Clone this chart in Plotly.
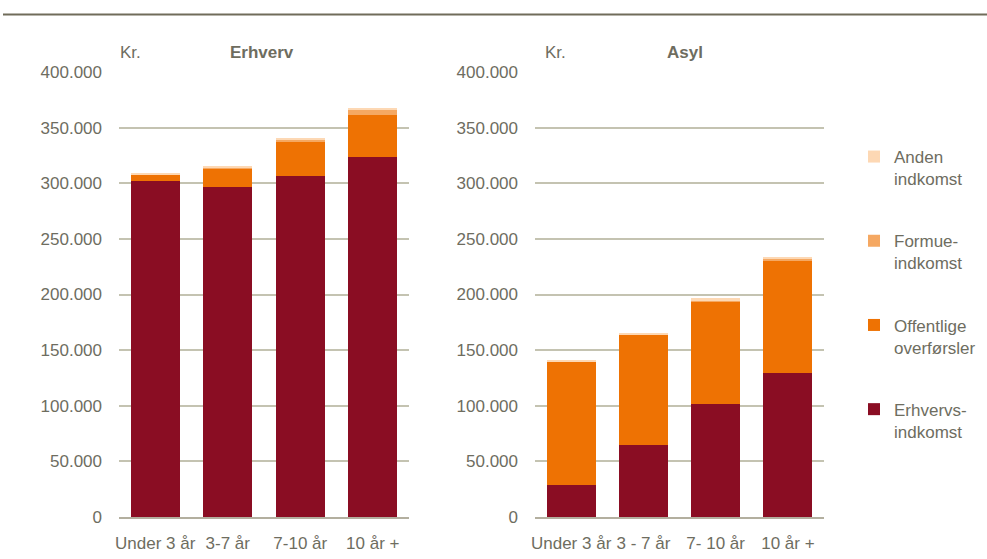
import plotly.graph_objects as go
from plotly.subplots import make_subplots

# categories per panel
cats_erhverv = ["Under 3 år", "3-7 år", "7-10 år", "10 år +"]
cats_asyl = ["Under 3 år", "3 - 7 år", "7- 10 år", "10 år +"]

# income components (kr.)
erhverv_erhvervsindk = [302000, 296500, 306500, 324000]
erhverv_offentlige = [5500, 16500, 31000, 37000]
erhverv_formue = [500, 1000, 1500, 4500]
erhverv_anden = [1000, 1000, 1500, 2000]

asyl_erhvervsindk = [28500, 64500, 101500, 129000]
asyl_offentlige = [111000, 99500, 92500, 101500]
asyl_formue = [300, 400, 1000, 1000]
asyl_anden = [700, 700, 1500, 2300]

series_names = ["Erhvervs-<br>indkomst", "Offentlige<br>overførsler", "Formue-<br>indkomst", "Anden<br>indkomst"]
colors = ["#8A0D23", "#EE7203", "#F5A862", "#FDD8B4"]

yticks = [0, 50000, 100000, 150000, 200000, 250000, 300000, 350000, 400000]

FONT = "Liberation Sans, Arial, sans-serif"
FS = 17
TXT = "#6E6D5F"
GRID = "#C4C3B1"

fig = make_subplots(rows=1, cols=2)

left = [erhverv_erhvervsindk, erhverv_offentlige, erhverv_formue, erhverv_anden]
right = [asyl_erhvervsindk, asyl_offentlige, asyl_formue, asyl_anden]

for i, name in enumerate(series_names):
    fig.add_trace(go.Bar(x=cats_erhverv, y=left[i], name=name, marker_color=colors[i],
                         marker_line_width=0, legendgroup=str(i), legendrank=10 - i),
                  row=1, col=1)
    fig.add_trace(go.Bar(x=cats_asyl, y=right[i], name=name, marker_color=colors[i],
                         marker_line_width=0, legendgroup=str(i), showlegend=False),
                  row=1, col=2)

W, H = 987, 559
ybot, ytop = (H - 517) / H, (H - 72) / H

fig.update_layout(
    width=W, height=H,
    barmode="stack", bargap=0.32,
    separators=",.",
    plot_bgcolor="white", paper_bgcolor="white",
    margin=dict(l=0, r=0, t=0, b=0),
    font=dict(family=FONT, size=FS, color=TXT),
    legend=dict(x=854 / W, y=(H - 139) / H, xanchor="left", yanchor="top",
                traceorder="grouped", tracegroupgap=37,
                valign="top", itemwidth=30,
                font=dict(family=FONT, size=FS, color=TXT)),
    xaxis=dict(domain=[119 / W, 409 / W]),
    xaxis2=dict(domain=[535 / W, 824 / W]),
    yaxis=dict(domain=[ybot, ytop]),
    yaxis2=dict(domain=[ybot, ytop]),
)

fig.update_xaxes(showgrid=False, showline=True, linecolor="#B3AF9F", linewidth=1.5,
                 ticks="", tickangle=0, ticklabelstandoff=10, automargin=False, fixedrange=True)
fig.update_yaxes(range=[0, 400000], tickvals=yticks, tickformat=",d",
                 showgrid=True, gridcolor=GRID, gridwidth=1.5, zeroline=False,
                 ticks="", ticklabelstandoff=16, automargin=False, fixedrange=True)

# panel headers
for xc, title, xk in [(262, "Erhverv", 118), (685, "Asyl", 543)]:
    fig.add_annotation(x=xc / W, y=(H - 52) / H, xref="paper", yref="paper",
                       text="<b>" + title + "</b>", showarrow=False,
                       xanchor="center", yanchor="middle",
                       font=dict(family=FONT, size=FS, color=TXT))
    fig.add_annotation(x=xk / W, y=(H - 52) / H, xref="paper", yref="paper",
                       text="Kr.", showarrow=False, xanchor="left", yanchor="middle",
                       font=dict(family=FONT, size=FS, color=TXT))

# top rule
fig.add_shape(type="line", xref="paper", yref="paper",
              x0=3 / W, x1=1, y0=(H - 14.5) / H, y1=(H - 14.5) / H,
              line=dict(color="#706C5A", width=2))

# drop the default body margin so the figure sits at the page corner
fig.write_html("out.html", config={"displayModeBar": False},
               post_script="document.body.style.margin='0';")
